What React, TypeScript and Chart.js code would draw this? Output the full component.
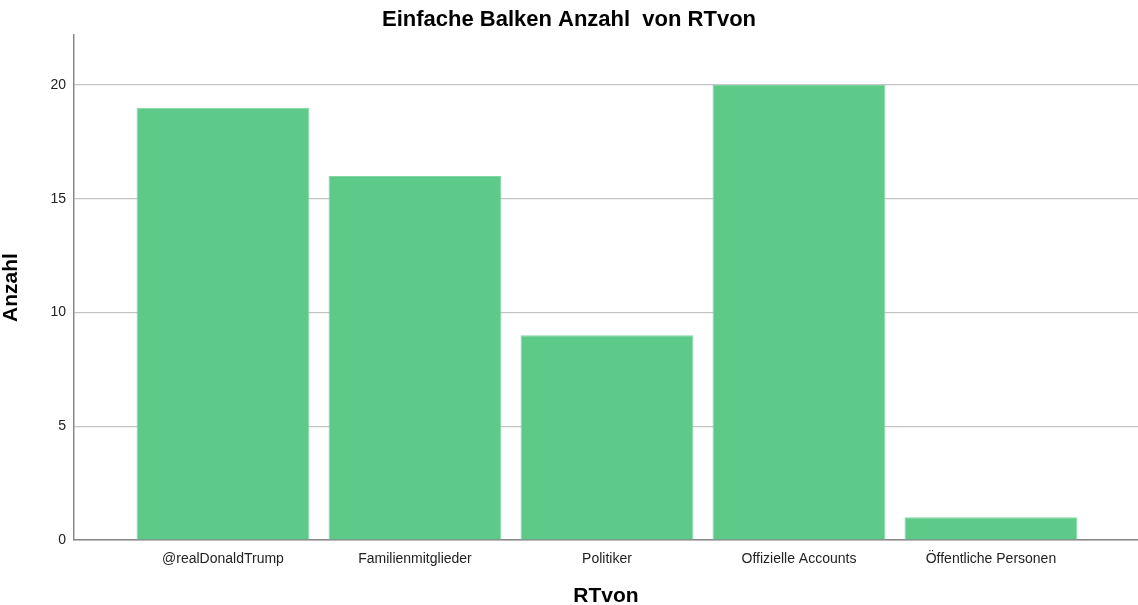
import React, { useEffect, useRef } from "react";
import { Chart, registerables } from "chart.js";

Chart.register(...registerables);

const chartTitle = "Einfache Balken Anzahl  von RTvon";
const xTitle = "RTvon";
const yTitle = "Anzahl";
const categories = [
  "@realDonaldTrump",
  "Familienmitglieder",
  "Politiker",
  "Offizielle Accounts",
  "Öffentliche Personen",
];
const counts = [19, 16, 9, 20, 1];
const yTicks = [0, 5, 10, 15, 20];

const FONT = "'Liberation Sans', Arial, sans-serif";

export default function App() {
  const ref = useRef<HTMLCanvasElement | null>(null);

  useEffect(() => {
    document.body.style.margin = "0";
    const canvas = ref.current;
    if (!canvas) return;
    const chart = new Chart(canvas, {
      type: "bar",
      data: {
        datasets: [
          {
            data: counts.map((v, i) => ({ x: i, y: v })),
            backgroundColor: "#5dca8a",
            borderColor: "#7fd6a2",
            borderWidth: 1,
            barPercentage: 0.9,
            categoryPercentage: 1,
          },
        ],
      },
      options: {
        animation: false,
        responsive: false,
        maintainAspectRatio: false,
        layout: { padding: { left: 0, right: 0, top: 0, bottom: 0 } },
        plugins: {
          legend: { display: false },
          tooltip: { enabled: false },
          title: {
            display: true,
            text: chartTitle,
            color: "#000",
            font: { family: FONT, size: 22, weight: "bold" },
            padding: { top: 7, bottom: 1.6 },
          },
        },
        scales: {
          x: {
            type: "linear",
            offset: false,
            min: -0.776,
            max: 4.766,
            grid: { display: false, drawTicks: false, offset: false },
            border: { display: true, color: "#888888", width: 1.5 },
            afterBuildTicks: (s: any) => {
              s.ticks = categories.map((_, i) => ({ value: i }));
            },
            afterFit: (s: any) => {
              s.height = 65;
            },
            ticks: {
              autoSkip: false,
              maxRotation: 0,
              padding: 11,
              color: "#222",
              font: { family: FONT, size: 14 },
              callback: (v: any) => categories[Number(v)] ?? "",
            },
            title: {
              display: true,
              text: xTitle,
              color: "#000",
              font: { family: FONT, size: 21, weight: "bold" },
              padding: { top: 0, bottom: -3.5 },
            },
          },
          y: {
            type: "linear",
            min: 0,
            max: 22.2,
            afterBuildTicks: (s: any) => {
              s.ticks = yTicks.map((v) => ({ value: v }));
            },
            afterFit: (s: any) => {
              s.width = 74;
            },
            grid: { color: "#c4c4c4", lineWidth: 1.2, drawTicks: false },
            border: { display: true, color: "#888888", width: 1.5 },
            ticks: {
              padding: 8,
              color: "#222",
              font: { family: FONT, size: 14 },
            },
            title: {
              display: true,
              text: yTitle,
              color: "#000",
              font: { family: FONT, size: 21, weight: "bold" },
              padding: { top: -1, bottom: 0 },
            },
          },
        },
      },
    });
    return () => chart.destroy();
  }, []);

  return (
    <div style={{ width: 1138, height: 605 }}>
      <canvas ref={ref} width={1138} height={605} style={{ display: "block" }} />
    </div>
  );
}
